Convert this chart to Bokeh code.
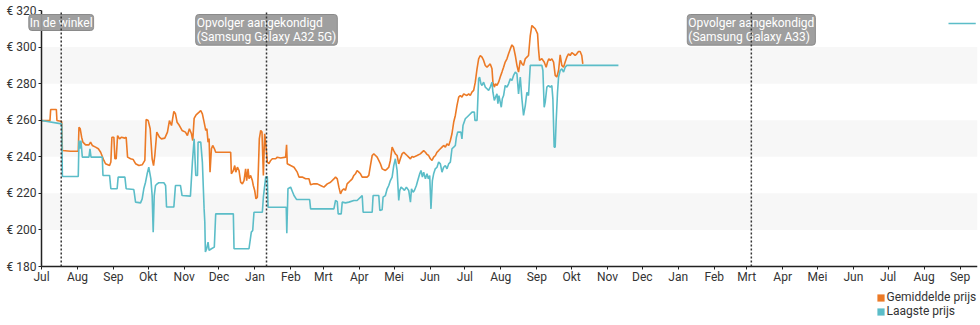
import numpy as np
import pandas as pd
from bokeh.plotting import figure
from bokeh.models import (Range1d, FixedTicker, PrintfTickFormatter, Label,
                          Legend, LegendItem, BoxAnnotation)
from bokeh.embed import file_html
from bokeh.resources import INLINE

# ---------------- data ----------------
START = "2021-07-01"
END = "2023-09-16"

# days since START, average price (Gemiddelde prijs)
avg_days = [0, 7.3, 7.9, 12.8, 13.3, 17.4, 18.0, 25, 31.7, 32.3, 33.4, 34.6, 35.7, 38.0, 40.9,
            42.3, 43.8, 46.6, 49.0, 51.0, 53.8, 55.2, 58.7, 59.8, 60.7, 62.4, 63.3, 64.4, 65.6,
            67.3, 69.0, 71.9, 73.0, 74.2, 76.8, 79.1, 81.1, 84.0, 86.8, 89.1, 90.2, 92.0, 93.7,
            95.4, 96.6, 97.7, 99.4, 101.7, 103.4, 106.3, 108.6, 110.3, 112.1, 114.1, 115.5, 116.9,
            118.9, 121.2, 124.1, 125.8, 127.5, 129.3, 130.4, 131.6, 133.3, 135.9, 137.3, 138.7,
            140.2, 141.6, 142.6, 143.6, 144.5, 145.3, 146.5, 147.6, 149, 150.2, 163.1, 163.7,
            165.4, 166.6, 167.5, 168.9, 170.3, 171.7, 173.2, 174.6, 176.0, 176.9, 178.1, 178.9,
            180.3, 181.8, 182.6, 183.8, 184.9, 186.1, 187.0, 187.8, 189.0, 190.1, 191.3, 192.4,
            193.5, 194.7, 196.1, 197.6, 199.0, 201.9, 203.3, 206.2, 210.5, 211.3, 211.9, 214.8,
            217.7, 220.5, 222.0, 224.8, 227.7, 230.6, 232.0, 234.9, 237.8, 240.6, 243.5, 246.4,
            249.2, 252.1, 253.5, 255.0, 256.4, 257.8, 259.2, 260.7, 262.1, 263.5, 265.0, 266.4,
            267.9, 269.3, 270.7, 272.1, 273.6, 275.0, 276.5, 280.7, 282.2, 283.6, 285.1, 286.5,
            288.0, 289.4, 290.8, 292.2, 293.7, 296.5, 298.0, 299.4, 300.8, 302.3, 303.7, 305.1,
            306.6, 308.0, 309.4, 310.9, 312.3, 313.7, 315.2, 316.6, 318.1, 319.5, 320.9, 323.8,
            326.6, 329.5, 331.0, 332.4, 333.8, 335.3, 336.7, 338.1, 339.6, 341.0, 342.4, 343.9,
            345.3, 346.7, 348.2, 349.6, 351.1, 352.5, 353.9, 355.4, 356.8, 358.2, 359.7, 361.1,
            362.5, 364.0, 365.4, 366.8, 368.3, 369.7, 371.1, 372.6, 374.0, 375.5, 376.9, 378.3,
            379.8, 381.2, 382.6, 384.1, 385.5, 386.9, 388.4, 389.2, 390.4, 391.5, 392.7, 394.1,
            395.5, 397.0, 398.4, 399.8, 401.3, 402.7, 404.2, 405.6, 407.0, 408.5, 409.9, 411.3,
            412.8, 414.2, 415.6, 417.1, 418.5, 419.9, 421.4, 422.8, 424.2, 425.7, 427.7, 428.5,
            429.4, 431.4, 433.4, 435.1, 436.3, 437.4, 438.6, 440.0, 441.5, 442.9, 444.3, 445.8,
            447.2, 448.6, 450.1, 451.5, 452.9, 454.4, 455.8, 457.2, 458.7, 460.1, 461.5, 463.0,
            464.4, 465.8, 466.7]
avg_prices = [259.8, 259.8, 265.9, 265.9, 259.8, 259.3, 243.4, 243.0, 243.0, 256.2, 255.3, 250.7,
              248.0, 246.5, 246.5, 248.0, 246.2, 245.3, 244.4, 242.5, 238.0, 236.2, 235.2, 237.1,
              250.7, 250.7, 238.9, 238.9, 251.6, 249.8, 250.7, 250.2, 250.7, 239.8, 238.9, 238.5,
              236.2, 235.2, 235.6, 238.0, 260.4, 259.8, 255.3, 238.9, 235.2, 240.7, 253.5, 250.7,
              249.8, 250.2, 253.5, 259.8, 257.1, 264.8, 263.5, 258.9, 257.1, 254.4, 253.5, 251.6,
              255.3, 252.6, 248.9, 261.0, 262.9, 264.4, 265.3, 263.5, 259.0, 254.4, 255.3, 248.0,
              250.0, 231.6, 244.4, 246.2, 244.5, 242.5, 242.5, 230.7, 232.5, 235.2, 231.6, 234.3,
              232.5, 226.1, 225.2, 227.0, 233.4, 227.0, 233.4, 228.0, 229.8, 227.0, 224.3, 221.6,
              217.0, 217.9, 233.4, 249.8, 254.4, 253.5, 229.8, 252.6, 246.2, 237.1, 236.2, 238.0,
              238.9, 238.9, 239.8, 239.3, 239.8, 246.5, 236.2, 235.2, 234.3, 231.6, 228.9, 228.9,
              228.0, 228.0, 224.7, 225.2, 225.2, 224.3, 223.4, 225.2, 226.1, 227.9, 228.9, 227.9,
              223.4, 219.7, 221.6, 222.5, 221.6, 225.2, 226.1, 227.0, 227.9, 229.8, 230.7, 232.5,
              231.6, 230.7, 228.9, 228.9, 229.8, 235.2, 240.7, 241.6, 240.7, 239.8, 238.0, 236.2,
              233.4, 232.5, 233.4, 234.3, 238.0, 245.3, 243.4, 241.6, 240.7, 236.1, 238.9, 241.6,
              242.5, 241.6, 240.7, 239.8, 238.9, 240.2, 239.8, 240.7, 241.6, 243.4, 242.5, 241.3,
              240.7, 238.9, 238.0, 239.8, 240.7, 242.5, 243.4, 244.4, 245.3, 246.2, 245.3, 247.1,
              246.2, 248.9, 252.6, 259.0, 262.6, 268.0, 272.6, 273.5, 272.6, 274.4, 273.9, 273.5,
              274.4, 273.5, 275.4, 276.3, 280.8, 288.1, 293.6, 295.4, 294.5, 292.7, 289.9, 289.0,
              289.9, 290.8, 288.1, 280.8, 278.1, 279.9, 279.0, 280.8, 283.6, 286.3, 289.0, 291.8,
              293.6, 296.3, 299.0, 301.2, 300.0, 295.4, 290.0, 286.3, 292.7, 290.9, 290.0, 293.6,
              294.5, 295.4, 306.3, 311.8, 310.9, 310.0, 307.2, 299.0, 292.7, 293.6, 291.8, 289.0,
              291.8, 293.6, 292.7, 293.6, 291.8, 284.5, 283.6, 287.2, 295.8, 290.0, 289.0, 291.8,
              294.5, 296.3, 295.4, 296.9, 296.3, 295.4, 296.3, 297.6, 297.6, 295.4, 290.8]

# days since START, lowest price (Laagste prijs)
low_days = [0, 17.4, 18.0, 31.7, 32.3, 33.1, 34.0, 35.2, 40.9, 41.8, 42.7, 52.4, 53.0, 58.7, 59.8,
            65.2, 66.1, 71.9, 73.0, 79.6, 81.1, 85.4, 86.8, 88.2, 89.7, 91.1, 92.5, 94.3, 95.4,
            96.3, 97.2, 98.3, 99.7, 101.1, 105.5, 107.0, 107.8, 114.1, 115.5, 119.8, 121.2, 128.4,
            130.1, 131.6, 133.0, 134.5, 135.0, 137.3, 138.7, 140.2, 140.8, 141.3, 142.4, 143.6,
            144.5, 146.5, 149.0, 150.2, 165.4, 166.0, 178.9, 179.7, 180.9, 182.1, 183.2, 190.4,
            191.3, 193.3, 194.7, 195.3, 211.0, 211.5, 212.5, 214.8, 216.3, 217.7, 220.0, 231.2,
            232.0, 252.1, 253.5, 255.0, 255.8, 258.4, 259.3, 262.1, 265.0, 269.3, 272.1, 276.5,
            277.3, 285.1, 285.9, 290.8, 291.7, 293.7, 294.5, 296.5, 298.0, 299.4, 300.8, 302.3,
            303.7, 305.1, 306.6, 308.0, 308.9, 310.0, 311.7, 312.9, 314.6, 316.6, 318.1, 319.0,
            320.4, 321.5, 323.2, 324.4, 326.1, 327.2, 328.4, 329.5, 331.0, 332.4, 333.5, 334.7,
            335.8, 337.0, 338.1, 339.5, 341.0, 342.4, 343.9, 345.3, 346.7, 348.2, 349.6, 351.1,
            352.5, 353.9, 355.4, 356.8, 357.7, 358.8, 360.1, 361.6, 362.5, 363.4, 365.4, 368.3,
            371.2, 373.2, 373.7, 375.5, 376.9, 377.7, 378.9, 379.8, 381.2, 382.6, 384.1, 385.5,
            386.9, 388.4, 389.2, 390.4, 391.5, 392.7, 393.5, 394.4, 395.5, 396.4, 397.3, 398.4,
            399.8, 401.3, 402.7, 404.2, 405.6, 407.0, 408.5, 409.9, 411.3, 412.8, 414.2, 415.6,
            417.1, 418.5, 419.9, 421.4, 431.4, 432.3, 433.4, 434.3, 435.7, 437.1, 438.6, 440.0,
            440.9, 442.0, 442.9, 443.7, 444.9, 445.8, 447.2, 448.6, 450.1, 451.5, 452.9, 497.4]
low_prices = [259.8, 258.0, 229.2, 229.2, 248.9, 244.4, 248.9, 239.8, 239.8, 244.4, 239.8, 239.8,
              229.8, 229.8, 222.5, 222.5, 228.9, 228.9, 222.5, 222.1, 215.2, 214.8, 217.0, 222.5,
              226.1, 230.7, 234.3, 227.9, 218.8, 198.8, 218.8, 224.3, 225.2, 225.8, 225.8, 224.3,
              212.5, 212.5, 224.3, 224.3, 218.8, 218.5, 237.1, 249.8, 229.8, 229.8, 248.0, 248.0,
              237.1, 211.5, 204.3, 187.9, 189.7, 193.3, 188.8, 189.7, 190.6, 208.8, 208.8, 189.7,
              189.7, 193.3, 198.8, 199.7, 209.7, 209.7, 217.9, 228.9, 229.2, 212.4, 212.4, 198.2,
              222.5, 223.4, 221.0, 218.8, 216.6, 216.6, 211.5, 211.5, 216.1, 215.5, 208.8, 208.8,
              215.2, 214.8, 215.2, 216.1, 216.1, 218.8, 209.7, 209.7, 218.8, 218.8, 210.6, 211.0,
              217.9, 218.8, 222.5, 224.3, 227.0, 228.9, 235.2, 238.9, 232.5, 216.1, 221.6, 223.4,
              222.5, 221.6, 223.4, 221.6, 215.2, 222.5, 220.6, 221.6, 224.3, 227.0, 230.7, 232.5,
              228.9, 231.6, 228.0, 230.7, 227.9, 229.8, 211.5, 227.0, 230.7, 233.4, 234.3, 237.1,
              236.1, 231.6, 234.3, 235.2, 233.4, 236.2, 237.1, 244.4, 245.3, 246.2, 250.7, 253.5,
              253.5, 253.5, 249.8, 257.1, 260.8, 262.6, 264.4, 264.4, 259.9, 259.9, 282.6, 283.6,
              279.9, 279.0, 280.8, 278.1, 277.2, 276.3, 278.1, 280.8, 275.3, 270.8, 272.6, 274.4,
              269.0, 273.5, 269.9, 267.1, 271.7, 273.5, 279.0, 278.1, 279.9, 282.6, 281.7, 284.5,
              286.3, 285.4, 274.4, 283.6, 271.7, 262.6, 268.0, 275.3, 273.5, 290.0, 290.0, 287.2,
              267.1, 269.9, 278.1, 279.0, 278.1, 279.0, 271.7, 245.3, 245.3, 258.9, 275.3, 283.6,
              287.2, 288.1, 286.3, 289.0, 290.0, 290.0]

# short lowest-price segment at top right
extra_days = [782.0, 805.5]
extra_prices = [312.9, 312.9]

month_labels = ["Jul", "Aug", "Sep", "Okt", "Nov", "Dec", "Jan", "Feb", "Mrt", "Apr", "Mei", "Jun",
                "Jul", "Aug", "Sep", "Okt", "Nov", "Dec", "Jan", "Feb", "Mrt", "Apr", "Mei", "Jun",
                "Jul", "Aug", "Sep"]
month_ticks = pd.date_range("2021-07-01", "2023-09-01", freq="MS")

Y_MIN, Y_MAX = 180, 320
y_ticks = [180, 200, 220, 240, 260, 280, 300, 320]
band_bottoms = [200, 240, 280]
band_tops = [220, 260, 300]

event_dates = ["2021-07-18", "2022-01-11", "2023-03-05"]
event_texts = ["In de winkel",
               "Opvolger aangekondigd\n(Samsung Galaxy A32 5G)",
               "Opvolger aangekondigd\n(Samsung Galaxy A33)"]

series_names = ["Gemiddelde prijs", "Laagste prijs"]

# ---------------- layout constants (pixels) ----------------
W, H = 980, 325
AX_LEFT = 41      # pixel column of the y axis
AX_BOTTOM = 59    # pixels below the x axis
TOP = 10          # pixels above the top tick
RIGHT = 3

ORANGE = "#ec7a26"
TEAL = "#5bbdc8"
FONT = "Roboto"
DAY_MS = 86400000.0


def ms(s):
    return pd.Timestamp(s).value / 1e6


base = ms(START)
end = ms(END)
frame_w = W - RIGHT
# extend the ranges so that the frame covers the whole canvas (no clipping)
ms_per_px = (end - base) / (frame_w - AX_LEFT)
x_lo = base - AX_LEFT * ms_per_px
val_per_px = (Y_MAX - Y_MIN) / (H - TOP - AX_BOTTOM)
y_lo = Y_MIN - AX_BOTTOM * val_per_px
y_hi = Y_MAX + TOP * val_per_px


def to_x(days):
    return [base + d * DAY_MS for d in days]


tick_ms = [float(t.value / 1e6) for t in month_ticks]
ev_ms = [ms(d) for d in event_dates]

p = figure(width=W, height=H, x_axis_type="datetime",
           x_range=Range1d(x_lo, end), y_range=Range1d(y_lo, y_hi),
           output_backend="svg", toolbar_location=None,
           min_border_left=0, min_border_right=RIGHT, min_border_top=0, min_border_bottom=0)
p.outline_line_color = None
p.xgrid.visible = False
p.ygrid.visible = False
p.background_fill_color = "white"

for b, t in zip(band_bottoms, band_tops):
    p.add_layout(BoxAnnotation(left=base, bottom=b, top=t, fill_color="#f7f7f7", fill_alpha=1,
                               line_color=None, level="underlay"))

p.line(to_x(avg_days), avg_prices, line_color=ORANGE, line_width=1.6)
p.line(to_x(low_days), low_prices, line_color=TEAL, line_width=1.6)
p.line(to_x(extra_days), extra_prices, line_color=TEAL, line_width=1.6)

for d, txt in zip(ev_ms, event_texts):
    p.add_layout(Label(x=d, y=H - TOP - 4, x_units="data", y_units="screen", text=txt,
                       anchor="top_center", text_align="left",
                       text_color="white", text_font=FONT, text_font_size="12px",
                       text_line_height=1.05,
                       background_fill_color="#9a9a9a", background_fill_alpha=0.95,
                       border_line_color="#8a8a8a", border_line_width=1,
                       padding=1, border_radius=3))

ev_lines = p.segment(x0=ev_ms, y0=[Y_MIN] * len(ev_ms), x1=ev_ms, y1=[Y_MAX] * len(ev_ms),
                     line_color="#333333", line_dash="2 2", line_width=1.5)
ev_lines.level = "overlay"

# axes, placed at fixed data locations inside the frame
for ax in (p.xaxis[0], p.yaxis[0]):
    ax.axis_line_color = "#222222"
    ax.axis_line_width = 1.5
    ax.major_tick_line_color = "#222222"
    ax.major_tick_line_width = 1
    ax.major_tick_in = 0
    ax.major_tick_out = 3
    ax.minor_tick_line_color = None
    ax.major_label_text_font = FONT
    ax.major_label_text_font_size = "12px"
    ax.major_label_text_color = "#333333"

p.yaxis.fixed_location = base
p.yaxis.bounds = (Y_MIN, Y_MAX)
p.yaxis.ticker = FixedTicker(ticks=y_ticks)
p.yaxis.formatter = PrintfTickFormatter(format="€ %d")
p.yaxis.major_label_standoff = 2

p.xaxis.fixed_location = Y_MIN
p.xaxis.bounds = (base, end)
p.xaxis.ticker = FixedTicker(ticks=tick_ms)
p.xaxis.major_label_overrides = {t: lab for t, lab in zip(tick_ms, month_labels)}
p.xaxis.major_label_standoff = 0

# legend (squares); the legend renderers hold a zero-size box at the first data point
leg_avg = p.quad(left=[base], right=[base], top=[Y_MIN], bottom=[Y_MIN],
                 fill_color=ORANGE, line_color=None)
leg_low = p.quad(left=[base], right=[base], top=[Y_MIN], bottom=[Y_MIN],
                 fill_color=TEAL, line_color=None)
legend = Legend(items=[LegendItem(label=series_names[0], renderers=[leg_avg]),
                       LegendItem(label=series_names[1], renderers=[leg_low])],
                location=(875.5, 7), orientation="vertical",
                glyph_width=9, glyph_height=9, label_height=14, label_standoff=2,
                spacing=0, padding=0, margin=0, border_line_color=None,
                background_fill_alpha=0, label_text_font=FONT,
                label_text_font_size="12px", label_text_color="#333333")
p.add_layout(legend)

open("out.html", "w").write(file_html(p, INLINE))
